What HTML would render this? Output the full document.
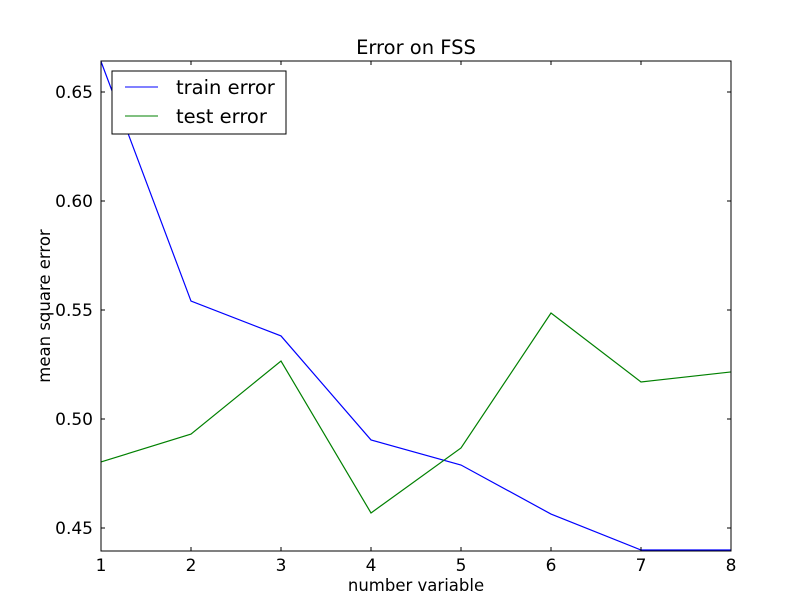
<!DOCTYPE html>
<html><head><meta charset="utf-8"><style>
body{margin:0;background:#fff;}
svg{display:block;font-family:"DejaVu Sans","Liberation Sans",sans-serif;}
</style></head><body>
<svg id="chart" width="812" height="612">
<rect width="812" height="612" fill="#fff"/>
<text x="416" y="54" font-size="19.5" text-anchor="middle">Error on FSS</text>
<g id="lines"></g>
<rect x="101" y="61" width="630" height="490" fill="none" stroke="#000" stroke-width="1"/>
<g id="ticks"></g>
<text x="416" y="591" font-size="16.5" text-anchor="middle">number variable</text>
<text transform="translate(50,306) rotate(-90)" font-size="16.5" text-anchor="middle">mean square error</text>
<g>
<rect x="112" y="71" width="174" height="63" fill="#fff" stroke="#000" stroke-width="1"/>
<line x1="125" y1="87" x2="158" y2="87" stroke="#0000ff" stroke-width="1"/>
<text x="176" y="94" font-size="19.5">train error</text>
<line x1="125" y1="116" x2="158" y2="116" stroke="#008000" stroke-width="1"/>
<text x="176" y="123" font-size="19.5">test error</text>
</g>
</svg>
<script>
const categories=[1,2,3,4,5,6,7,8];
const trainError=[0.664,0.5541,0.5381,0.4904,0.4789,0.4564,0.4399,0.4399];
const testError=[0.4803,0.4931,0.5266,0.4569,0.4867,0.5486,0.5170,0.5216];
const yTicks=[0.45,0.50,0.55,0.60,0.65];
const yTickLabels=["0.45","0.50","0.55","0.60","0.65"];
const ns="http://www.w3.org/2000/svg";
const xS=v=>101+(v-1)*90;
const yS=v=>92-(v-0.65)*2180;
const lines=document.getElementById('lines');
function addLine(vals,color,name){
  const p=document.createElementNS(ns,'polyline');
  p.setAttribute('points',vals.map((v,i)=>xS(categories[i])+','+yS(v)).join(' '));
  p.setAttribute('fill','none');p.setAttribute('stroke',color);p.setAttribute('stroke-width','1.2');
  
  
  lines.appendChild(p);
}
addLine(trainError,'#0000ff','train-error-line');
addLine(testError,'#008000','test-error-line');
const t=document.getElementById('ticks');
function mk(tag,attrs){const e=document.createElementNS(ns,tag);for(const k in attrs)e.setAttribute(k,attrs[k]);t.appendChild(e);return e;}
categories.forEach(c=>{
  const x=xS(c);
  mk('line',{x1:x,y1:551,x2:x,y2:547,stroke:'#000'});
  mk('line',{x1:x,y1:61,x2:x,y2:65,stroke:'#000'});
  const tx=mk('text',{x:x,y:571,'font-size':17,'text-anchor':'middle'});tx.textContent=c;
  
  
});
yTicks.forEach((v,i)=>{
  const y=yS(v);
  mk('line',{x1:101,y1:y,x2:105,y2:y,stroke:'#000'});
  mk('line',{x1:731,y1:y,x2:727,y2:y,stroke:'#000'});
  const tx=mk('text',{x:93,y:y+6,'font-size':17,'text-anchor':'end'});tx.textContent=yTickLabels[i];
  
  
});
</script>
</body></html>
